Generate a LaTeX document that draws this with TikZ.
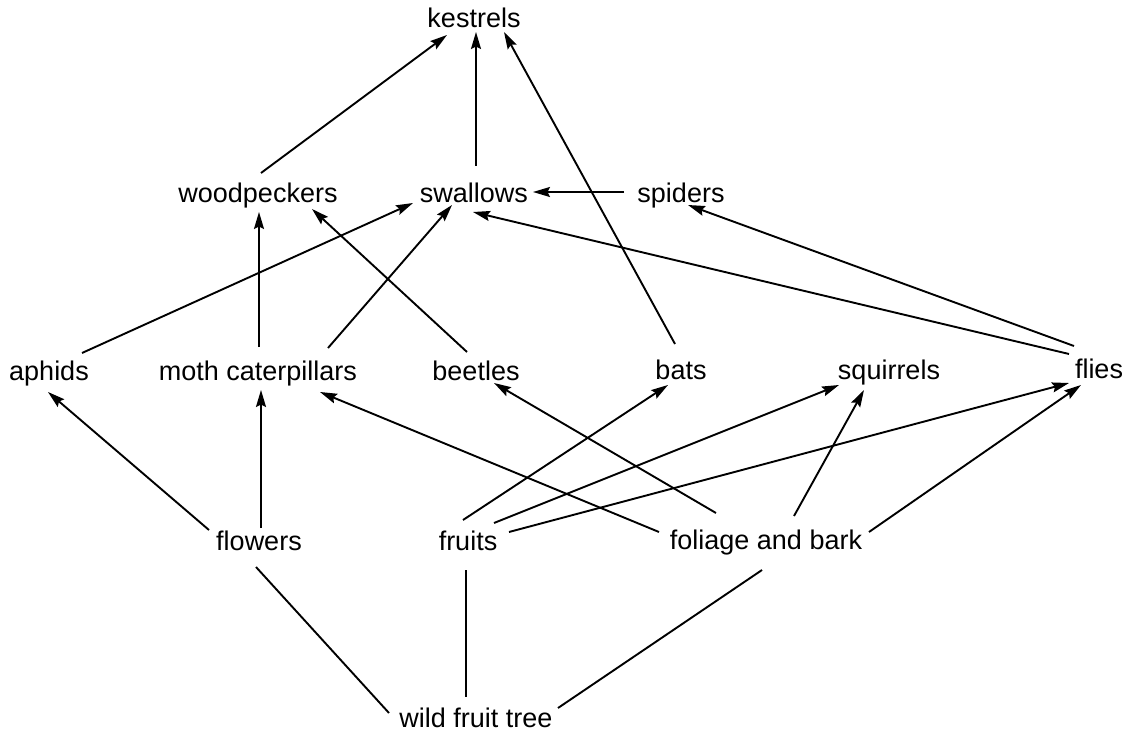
\documentclass[tikz,border=0pt]{standalone}
\usepackage{fontspec}
\setmainfont{Liberation Sans}
\usetikzlibrary{arrows.meta,calc}
\begin{document}
\begin{tikzpicture}[x=1pt,y=-1pt,
  lbl/.style={inner sep=0pt,text height=20pt,text depth=0pt,font=\fontsize{27}{32}\selectfont},
  arr/.style={line width=1.9pt,-{Stealth[length=17pt,width=10pt,inset=2.5pt]}},
  ln/.style={line width=1.9pt}]
\fill[white] (0,0) rectangle (1133,733);
\useasboundingbox (0,0) rectangle (1133,733);
% nodes
\node[lbl] (K)  at (474,18)  {kestrels};
\node[lbl] (W)  at (258,192) {woodpeckers};
\node[lbl] (S)  at (474,192) {swallows};
\node[lbl] (Sp) at (681,192) {spiders};
\node[lbl] (A)  at (49,370)  {aphids};
\node[lbl] (M)  at (258,370) {moth caterpillars};
\node[lbl] (B)  at (476,370) {beetles};
\node[lbl] (Ba) at (681,369) {bats};
\node[lbl] (Sq) at (889,369) {squirrels};
\node[lbl] (F)  at (1099,368) {flies};
\node[lbl] (Fl) at (259,540) {flowers};
\node[lbl] (Fr) at (468,540) {fruits};
\node[lbl] (Fo) at (766,539) {foliage and bark};
\node[lbl] (T)  at (476,717) {wild fruit tree};
% arrows to kestrels
\draw[arr] ($(W)+(3,-19)$) -- ($(K)+(-27,17)$);
\draw[arr] ($(S)+(2,-26)$) -- ($(K)+(2,14)$);
\draw[arr] ($(Ba)+(-6,-25)$) -- ($(K)+(30,14)$);
% second row
\draw[arr] ($(Sp)+(-57,0)$) -- ($(S)+(59,0)$);
\draw[arr] ($(A)+(33,-17)$) -- ($(S)+(-61,11)$);
\draw[arr] ($(M)+(1,-23)$) -- ($(W)+(1,20)$);
\draw[arr] ($(M)+(70,-22)$) -- ($(S)+(-22,13)$);
\draw[arr] ($(B)+(-9,-18)$) -- ($(W)+(54,17)$);
\draw[arr] ($(F)+(-30,-14)$) -- ($(S)+(-1,20)$);
\draw[arr] ($(F)+(-25,-22)$) -- ($(Sp)+(7,13)$);
% third row
\draw[arr] ($(Fl)+(-50,-10)$) -- ($(A)+(-1,22)$);
\draw[arr] ($(Fl)+(2,-12)$) -- ($(M)+(3,20)$);
\draw[arr] ($(Fo)+(-107,-7)$) -- ($(M)+(62,22)$);
\draw[arr] ($(Fo)+(-50,-26)$) -- ($(B)+(18,13)$);
\draw[arr] ($(Fr)+(-5,-20)$) -- ($(Ba)+(-13,16)$);
\draw[arr] ($(Fr)+(26,-17)$) -- ($(Sq)+(-50,16)$);
\draw[arr] ($(Fr)+(41,-8)$) -- ($(F)+(-30,15)$);
\draw[arr] ($(Fo)+(28,-23)$) -- ($(Sq)+(-25,21)$);
\draw[arr] ($(Fo)+(103,-7)$) -- ($(F)+(-18,17)$);
% tree
\draw[ln] ($(Fl)+(-3,27)$) -- ($(T)+(-87,-4)$);
\draw[ln] ($(Fr)+(-2,30)$) -- ($(T)+(-10,-20)$);
\draw[ln] ($(Fo)+(-4,31)$) -- ($(T)+(82,-9)$);
\end{tikzpicture}
\end{document}
